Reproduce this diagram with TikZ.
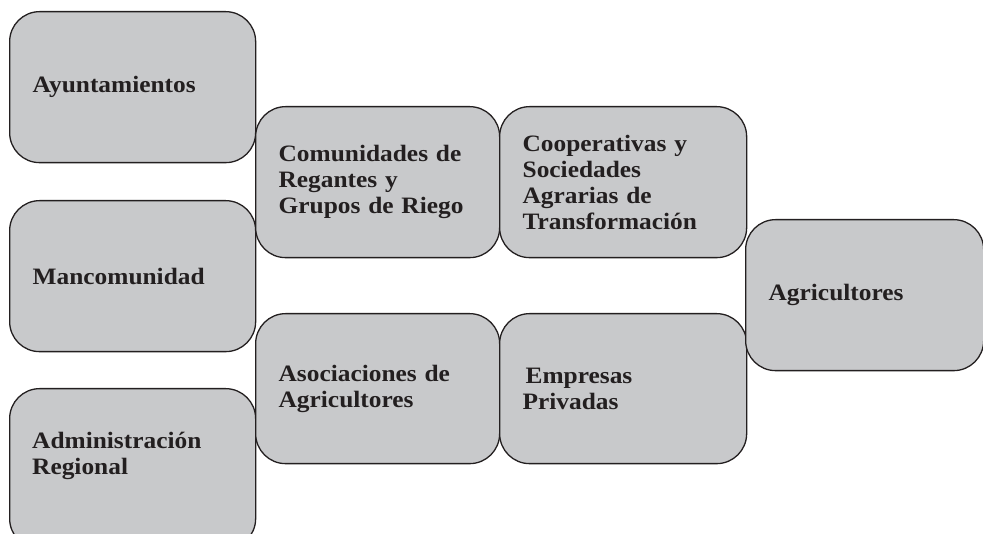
\documentclass[tikz,border=0pt]{standalone}
\usepackage{fontspec}
\setmainfont{Liberation Serif}[FakeStretch=1.08]
\definecolor{boxc}{HTML}{C8C9CB}
\definecolor{linec}{HTML}{231F20}
\definecolor{txtc}{HTML}{231F20}
\begin{document}
\begin{tikzpicture}[x=1pt,y=1pt]
\tikzset{
  box/.style={draw=linec, fill=boxc, line width=1.3pt, rounded corners=30pt,
    anchor=north west, inner xsep=23pt, inner ysep=0pt, align=left, text=txtc,
    font=\bfseries\fontsize{23.5}{26}\selectfont},
  lbl/.style={anchor=west, inner sep=0pt, align=left, text=txtc,
    font=\bfseries\fontsize{23.5}{26}\selectfont}
}
\useasboundingbox (0,0) rectangle (983,534);
\clip (0,0) rectangle (983,534);
\node[box, text width=200pt, minimum height=151pt] (ayu) at (9,523) {Ayuntamientos};
\node[box, text width=200pt, minimum height=151pt] (man) at (9,334) {Mancomunidad};
\node[box, text width=200pt, minimum height=160pt] (adm) at (9,146) {};
\node[lbl] (admt) at (32,78) {Administración\\Regional};
\node[box, text width=198pt, minimum height=151pt] (com) at (255,428) {Comunidades de\\Regantes y\\Grupos de Riego};
\node[box, text width=198pt, minimum height=150pt] (aso) at (255,221) {Asociaciones de\\Agricultores};
\node[box, text width=201pt, minimum height=151pt] (coo) at (499,428) {Cooperativas y\\Sociedades\\Agrarias de\\Transformación};
\node[box, text width=201pt, minimum height=150pt] (emp) at (499,221) {\hspace*{3pt}Empresas\\Privadas};
\node[box, text width=192pt, minimum height=151pt] (agr) at (745,315) {Agricultores};
\end{tikzpicture}
\end{document}
